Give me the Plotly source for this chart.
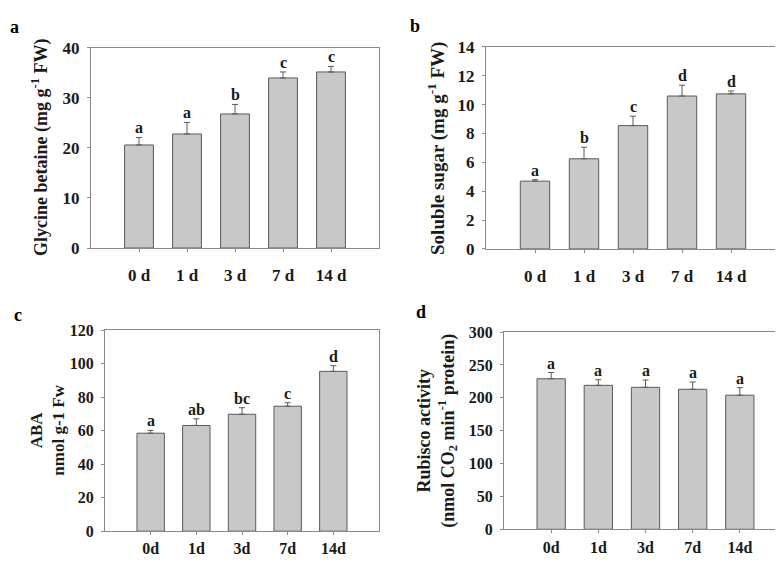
import plotly.graph_objects as go

W, H = 783, 568

# ---------------- data ----------------
days_ab = ["0 d", "1 d", "3 d", "7 d", "14 d"]
days_cd = ["0d", "1d", "3d", "7d", "14d"]

glycine_betaine = [20.6, 22.8, 26.8, 34.0, 35.2]
glycine_err = [1.5, 2.3, 1.9, 1.2, 1.1]
glycine_letters = ["a", "a", "b", "c", "c"]

soluble_sugar = [4.7, 6.25, 8.55, 10.6, 10.75]
sugar_err = [0.1, 0.8, 0.65, 0.75, 0.2]
sugar_letters = ["a", "b", "c", "d", "d"]

aba = [58.5, 63.1, 69.8, 74.6, 95.4]
aba_err = [1.7, 4.0, 3.9, 2.1, 3.4]
aba_letters = ["a", "ab", "bc", "c", "d"]

rubisco = [229, 219, 216, 213, 204]
rubisco_err = [9.5, 8.5, 11, 11, 11.5]
rubisco_letters = ["a", "a", "a", "a", "a"]

y_ticks_a = [0, 10, 20, 30, 40]
y_ticks_b = [0, 2, 4, 6, 8, 10, 12, 14]
y_ticks_c = [0, 20, 40, 60, 80, 100, 120]
y_ticks_d = [0, 50, 100, 150, 200, 250, 300]

# ---------------- style ----------------
FONT = "Liberation Serif, Times New Roman, serif"
BAR_FILL = "#c8c8c8"
BAR_LINE = "#5a5a5a"
FRAME = "#8a8a8a"
TXT = "#1a1a1a"

# panel boxes in pixels: left, right, top, bottom
panels = [
    dict(cats=days_ab, vals=glycine_betaine, err=glycine_err, letters=glycine_letters,
         ymax=40, ticks=y_ticks_a, box=(83, 371, 32, 239), fs=17, xstand=9,
         title="Glycine betaine (mg g<sup>-1</sup> FW)", tx=32, tfs=18,
         label="a", lx=6, ly=10),
    dict(cats=days_ab, vals=soluble_sugar, err=sugar_err, letters=sugar_letters,
         ymax=14, ticks=y_ticks_b, box=(478, 772, 31, 240), fs=17, xstand=9,
         title="Soluble sugar (mg g<sup>-1</sup> FW)", tx=429, tfs=19,
         label="b", lx=407, ly=9),
    dict(cats=days_cd, vals=aba, err=aba_err, letters=aba_letters,
         ymax=120, ticks=y_ticks_c, box=(97, 371, 324, 532), fs=16, xstand=0,
         title="ABA<br>nmol g-1 Fw", tx=40, tfs=17,
         label="c", lx=10, ly=308),
    dict(cats=days_cd, vals=rubisco, err=rubisco_err, letters=rubisco_letters,
         ymax=300, ticks=y_ticks_d, box=(496, 779, 326, 530), fs=16, xstand=1,
         title="Rubisco activity<br>(nmol CO<sub>2</sub> min<sup>-1</sup> protein)", tx=429, tfs=18,
         label="d", lx=413, ly=305),
]

fig = go.Figure()
annotations = []
layout = {}

for i, p in enumerate(panels, start=1):
    sfx = "" if i == 1 else str(i)
    xa, ya = "x" + sfx, "y" + sfx
    l, r, t, b = p["box"]
    xdom = [l / W, r / W]
    ydom = [1 - b / H, 1 - t / H]

    fig.add_trace(go.Bar(
        x=p["cats"], y=p["vals"], width=0.6,
        marker=dict(color=BAR_FILL, line=dict(color=BAR_LINE, width=1)),
        error_y=dict(type="data", array=p["err"], arrayminus=[0] * len(p["err"]),
                     symmetric=False, color=BAR_LINE, thickness=1, width=3),
        xaxis=xa, yaxis=ya, showlegend=False, hoverinfo="skip",
    ))

    layout["xaxis" + sfx] = dict(
        domain=xdom, anchor=ya, type="category", range=[-1, 5],
        showline=True, linecolor=FRAME, linewidth=1, mirror=True,
        ticks="outside", ticklen=3, tickcolor=FRAME, tickwidth=1,
        ticklabelstandoff=p["xstand"],
        tickfont=dict(family=FONT, size=p["fs"], color=TXT, weight="bold"),
        showgrid=False, zeroline=False, fixedrange=True,
    )
    layout["yaxis" + sfx] = dict(
        domain=ydom, anchor=xa, range=[0, p["ymax"]], tickvals=p["ticks"],
        showline=True, linecolor=FRAME, linewidth=1, mirror=True,
        ticks="outside", ticklen=3, tickcolor=FRAME, tickwidth=1,
        ticklabelstandoff=4,
        tickfont=dict(family=FONT, size=p["fs"], color=TXT, weight="bold"),
        showgrid=False, zeroline=False, fixedrange=True,
    )

    # significance letters above error bars
    for c, v, e, s in zip(p["cats"], p["vals"], p["err"], p["letters"]):
        annotations.append(dict(
            x=c, y=v + e, xref=xa, yref=ya, text=s, showarrow=False,
            xanchor="center", yanchor="bottom", yshift=-1,
            font=dict(family=FONT, size=16, color=TXT, weight="bold"),
        ))

    # y-axis title
    annotations.append(dict(
        x=p["tx"] / W, y=1 - (t + b) / 2 / H, xref="paper", yref="paper",
        text=p["title"], textangle=-90, showarrow=False,
        xanchor="center", yanchor="middle",
        font=dict(family=FONT, size=p["tfs"], color=TXT, weight="bold"),
    ))

    # panel letter
    annotations.append(dict(
        x=p["lx"] / W, y=1 - p["ly"] / H, xref="paper", yref="paper",
        text=p["label"], showarrow=False, xanchor="center", yanchor="middle",
        font=dict(family=FONT, size=18, color="#000000", weight="bold"),
    ))

fig.update_layout(
    width=W, height=H,
    margin=dict(l=0, r=0, t=0, b=0),
    paper_bgcolor="white", plot_bgcolor="white",
    annotations=annotations,
    **layout,
)

fig.write_html("out.html", config={"displayModeBar": False})
